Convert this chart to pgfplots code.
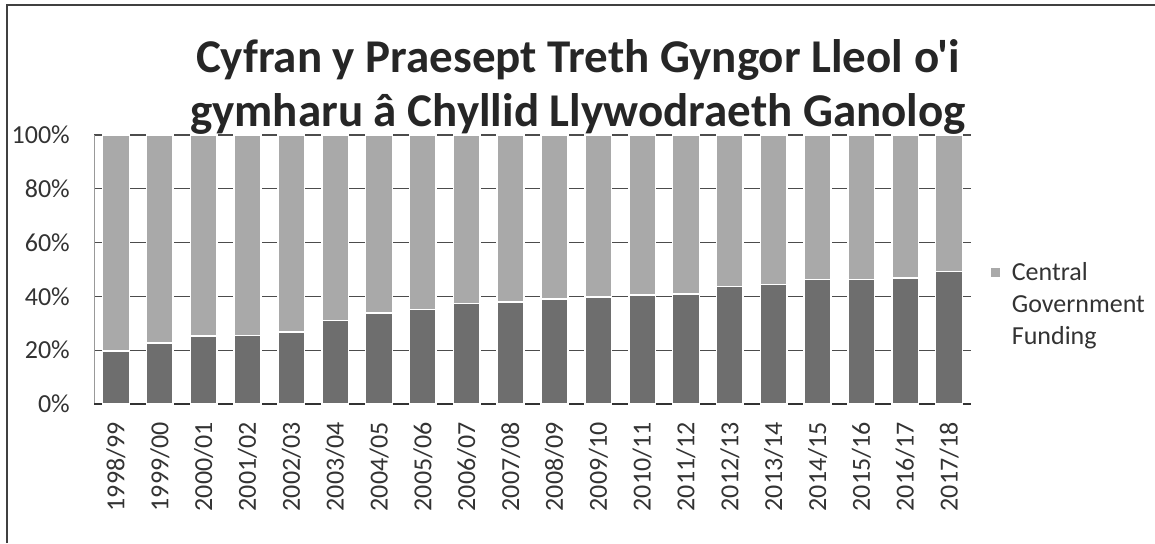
\documentclass[border=0pt]{standalone}
\usepackage{pgfplots}
\pgfplotsset{compat=1.18}
\usepackage{fontspec}
\setmainfont{Carlito}[Ligatures=TeXOff]
\definecolor{darkbar}{HTML}{6E6E6E}
\definecolor{lightbar}{HTML}{A9A9A9}
\pgfplotstableread{
x lower upper
0 19.7 80.3
1 22.6 77.4
2 25.2 74.8
3 25.4 74.6
4 26.7 73.3
5 31.1 68.9
6 33.9 66.1
7 35.1 64.9
8 37.4 62.6
9 38.0 62.0
10 39.1 60.9
11 39.8 60.2
12 40.5 59.5
13 40.8 59.2
14 43.7 56.3
15 44.4 55.6
16 46.2 53.8
17 46.3 53.7
18 46.8 53.2
19 49.2 50.8
}\datatable
\begin{document}
\begin{tikzpicture}
\path[use as bounding box] (0pt,0pt) rectangle (1155pt,543pt);
\draw[black!75, line width=1.3pt] (7pt,0pt) -- (7pt,538pt) -- (1155pt,538pt);
\begin{axis}[
  at={(94pt,139pt)}, anchor=south west,
  scale only axis, width=877pt, height=269pt,
  ybar stacked, bar width=26.7pt,
  xmin=-0.5, xmax=19.5, ymin=0, ymax=100,
  xtick={0,...,19},
  xticklabels={1998/99,1999/00,2000/01,2001/02,2002/03,2003/04,2004/05,2005/06,2006/07,2007/08,2008/09,2009/10,2010/11,2011/12,2012/13,2013/14,2014/15,2015/16,2016/17,2017/18},
  x tick label style={rotate=90, anchor=east, font=\fontsize{26}{30}\selectfont, text=black!80},
  ytick={0,20,40,60,80,100},
  yticklabel={\pgfmathprintnumber{\tick}\%},
  y tick label style={font=\fontsize{26}{30}\selectfont, text=black!80},
  /pgf/number format/assume math mode=true,
  major tick length=0pt,
  xtick style={draw=none}, ytick style={draw=none},
  tick label style={inner sep=0pt},
  xticklabel shift=18pt, yticklabel shift=24pt,
  axis line style={draw=none},
  ymajorgrids, grid style={black!70, line width=1.2pt},
  legend style={at={(1.019,0.37)}, anchor=west, draw=none, fill=none,
    font=\fontsize{26}{32}\selectfont, text=black!80, cells={align=left}},
  legend image code/.code={\path[draw=none,fill=none] (0pt,27pt) rectangle (19pt,37pt);\fill[lightbar,draw=none] (0pt,27pt) rectangle (9pt,36pt);},
]
\addplot[fill=darkbar, draw=white, line width=1.5pt, forget plot] table[x=x, y=lower] {\datatable};
\addplot[fill=lightbar, draw=white, line width=1.5pt] table[x=x, y=upper] {\datatable};
\addlegendentry{Central\\Government\\Funding}
\draw[black!80, line width=1.3pt] (axis cs:-0.5,0) -- (axis cs:19.5,0);
\draw[black!40, line width=0.8pt] (axis cs:-0.5,0) -- (axis cs:-0.5,100);
\end{axis}
\node[font=\fontsize{47}{54}\selectfont\bfseries, align=center, text=black!85] at (578pt,456pt) {Cyfran y Praesept Treth Gyngor Lleol o'i\\gymharu â Chyllid Llywodraeth Ganolog};
\end{tikzpicture}
\end{document}
